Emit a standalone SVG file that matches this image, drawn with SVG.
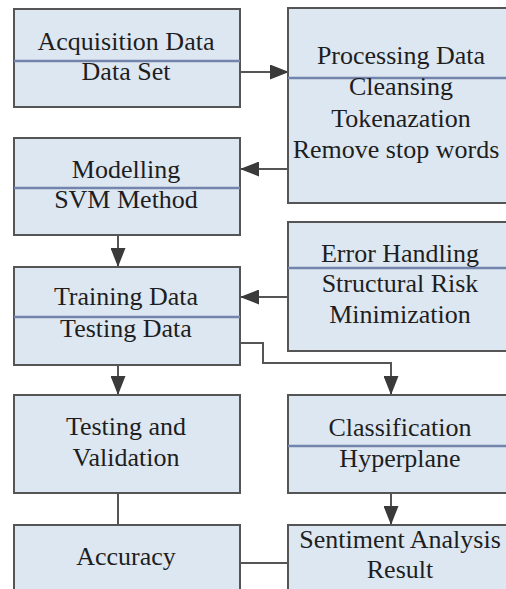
<svg xmlns="http://www.w3.org/2000/svg" width="506" height="589" viewBox="0 0 506 589" font-family="Liberation Serif, Times New Roman, serif">
<defs>
<marker id="arr" markerWidth="19" markerHeight="15" refX="19" refY="7.5" orient="auto" markerUnits="userSpaceOnUse">
<path d="M0,0 L19,7.5 L0,15 Z" fill="#3a3a3a"/>
</marker>
</defs>
<style>
.box{fill:#dde7f2;stroke:#555;stroke-width:2}
.div{stroke:#7385ad;stroke-width:2.5}
.t{font-size:26px;fill:#1e1e1e;text-anchor:middle}
.c{fill:none;stroke:#555;stroke-width:2}
</style>
<rect width="506" height="589" fill="#fff"/>
<g id="connectors">
<line class="c" x1="240" y1="72" x2="289" y2="72" marker-end="url(#arr)"/>
<line class="c" x1="288" y1="169" x2="240" y2="169" marker-end="url(#arr)"/>
<line class="c" x1="118" y1="235" x2="118" y2="267" marker-end="url(#arr)"/>
<line class="c" x1="288" y1="297" x2="240" y2="297" marker-end="url(#arr)"/>
<polyline class="c" points="240,343 263,343 263,363 391,363 391,395" marker-end="url(#arr)"/>
<line class="c" x1="118" y1="365" x2="118" y2="395" marker-end="url(#arr)"/>
<line class="c" x1="118" y1="493" x2="118" y2="525"/>
<line class="c" x1="391" y1="493" x2="391" y2="525" marker-end="url(#arr)"/>
<line class="c" x1="240" y1="563" x2="288" y2="563"/>
</g>
<g id="acquisition">
<rect class="box" x="14" y="9" width="226" height="98"/>
<line class="div" x1="14" y1="61" x2="240" y2="61"/>
<text class="t" x="126" y="50">Acquisition Data</text>
<text class="t" x="126" y="80">Data Set</text>
</g>
<g id="processing">
<rect class="box" x="288" y="8" width="226" height="195"/>
<line class="div" x1="288" y1="78" x2="514" y2="78"/>
<text class="t" x="401" y="64">Processing Data</text>
<text class="t" x="401" y="95">Cleansing</text>
<text class="t" x="401" y="127">Tokenazation</text>
<text class="t" x="396" y="158">Remove stop words</text>
</g>
<g id="modelling">
<rect class="box" x="14" y="138" width="226" height="97"/>
<line class="div" x1="14" y1="188" x2="240" y2="188"/>
<text class="t" x="126" y="178">Modelling</text>
<text class="t" x="126" y="208">SVM Method</text>
</g>
<g id="error">
<rect class="box" x="288" y="222" width="226" height="129"/>
<line class="div" x1="288" y1="268" x2="514" y2="268"/>
<text class="t" x="400" y="262">Error Handling</text>
<text class="t" x="400" y="292">Structural Risk</text>
<text class="t" x="400" y="323">Minimization</text>
</g>
<g id="training">
<rect class="box" x="14" y="267" width="226" height="98"/>
<line class="div" x1="14" y1="317" x2="240" y2="317"/>
<text class="t" x="126" y="305">Training Data</text>
<text class="t" x="126" y="337">Testing Data</text>
</g>
<g id="testing">
<rect class="box" x="14" y="395" width="226" height="98"/>
<text class="t" x="126" y="435">Testing and</text>
<text class="t" x="126" y="466">Validation</text>
</g>
<g id="classification">
<rect class="box" x="288" y="395" width="226" height="98"/>
<line class="div" x1="288" y1="446" x2="514" y2="446"/>
<text class="t" x="400" y="436">Classification</text>
<text class="t" x="400" y="467">Hyperplane</text>
</g>
<g id="accuracy">
<rect class="box" x="14" y="525" width="226" height="70"/>
<text class="t" x="126" y="565">Accuracy</text>
</g>
<g id="sentiment">
<rect class="box" x="288" y="525" width="226" height="70"/>
<text class="t" x="400" y="548">Sentiment Analysis</text>
<text class="t" x="400" y="578">Result</text>
</g>
</svg>
